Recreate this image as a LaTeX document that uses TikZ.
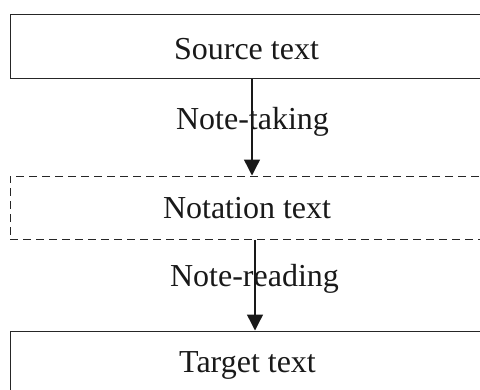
\documentclass[tikz,border=0pt]{standalone}
\usepackage{fontspec}
\setmainfont{Liberation Serif}
\usetikzlibrary{arrows.meta}
\begin{document}
\begin{tikzpicture}[x=1pt,y=-1pt,
  box/.style={draw=black!85,line width=1.4pt,minimum width=476pt,inner sep=0pt,anchor=north west},
  dbox/.style={box,dash pattern=on 8pt off 5pt},
  lbl/.style={font=\fontsize{32}{36}\selectfont,text=black!90,anchor=base,inner sep=0pt},
  conn/.style={draw=black!90,line width=1.4pt,-{Triangle[length=16pt,width=16pt]}}]
\useasboundingbox (0,0) rectangle (480,389);
\clip (0,0) rectangle (480,389);
\node[box,minimum height=64pt] (src) at (9.5,14) {};
\node[dbox,minimum height=63pt] (nota) at (9.5,175.5) {};
\node[box,minimum height=70pt] (tgt) at (10,330.5) {};
\node[lbl] (srct) at (246.5,59) {Source text};
\node[lbl] (notat) at (247,218) {Notation text};
\node[lbl] (tgtt) at (247.5,372) {Target text};
\node[lbl] (take) at (252.5,129) {Note-taking};
\node[lbl] (read) at (254.5,286) {Note-reading};
\draw[conn] (src.south -| 252,0) -- (nota.north -| 252,0);
\draw[conn] (nota.south -| 255,0) -- (tgt.north -| 255,0);
\end{tikzpicture}
\end{document}
